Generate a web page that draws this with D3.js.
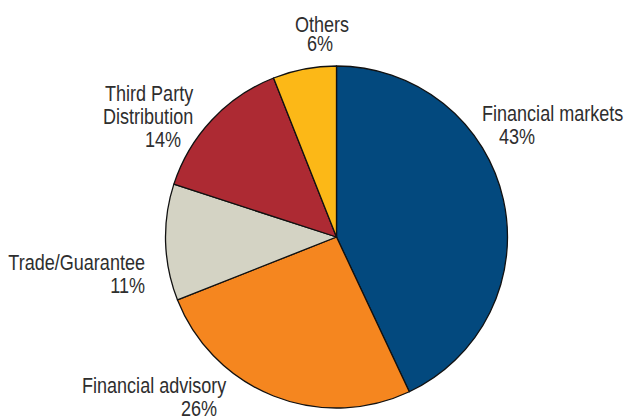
<!DOCTYPE html>
<html>
<head>
<meta charset="utf-8">
<script src="https://cdn.jsdelivr.net/npm/d3@7"></script>
<style>
  html, body { margin: 0; padding: 0; background: #fff; }
  svg { display: block; }
  .lbl { font-family: "Liberation Sans", Arial, sans-serif; font-size: 22px; fill: #2e2e2e; }
</style>
</head>
<body>
<svg id="chart" width="624" height="416"></svg>
<script>
// Revenue split by business line (percent)
const categories = ["Financial markets", "Financial advisory", "Trade/Guarantee", "Third Party Distribution", "Others"];
const values = [43, 26, 11, 14, 6];
const colors = ["#03497e", "#f5861f", "#d4d3c4", "#ad2a33", "#fcb817"];

// Label text lines (name split for wrapping) and their placement
const labelLines = [
  ["Financial markets"],
  ["Financial advisory"],
  ["Trade/Guarantee"],
  ["Third Party", "Distribution"],
  ["Others"]
];
const labelLayout = [
  { lines: [{x: 482, y: 121, a: "start"}], pct: {x: 499, y: 144, a: "start"} },
  { lines: [{x: 82,  y: 393, a: "start"}], pct: {x: 217, y: 416, a: "end"} },
  { lines: [{x: 145, y: 270, a: "end"}],   pct: {x: 145, y: 293, a: "end"} },
  { lines: [{x: 105, y: 101, a: "start"}, {x: 103, y: 124, a: "start"}], pct: {x: 145, y: 147, a: "start"} },
  { lines: [{x: 295, y: 32, a: "start"}],  pct: {x: 307, y: 51, a: "start"} }
];
// Horizontal squeeze giving a condensed face
const condense = 0.82;

const svg = d3.select("#chart");
const cx = 336.5, cy = 237, radius = 171;

const data = categories.map((c, i) => ({ name: c, value: values[i], color: colors[i], idx: i }));

const pie = d3.pie().sort(null).value(d => d.value).startAngle(0).endAngle(2 * Math.PI);
const arc = d3.arc().innerRadius(0).outerRadius(radius);

const g = svg.append("g").attr("transform", `translate(${cx},${cy})`);
g.selectAll("path.slice")
  .data(pie(data))
  .join("path")
  .attr("class", "slice")
  .attr("d", arc)
  .attr("fill", d => d.data.color)
  .attr("stroke", "#111")
  .attr("stroke-width", 1.3)
  .attr("stroke-linejoin", "round");

function addText(p, t) {
  svg.append("text").attr("class", "lbl")
    .attr("transform", `translate(${p.x},${p.y}) scale(${condense},1)`)
    .attr("text-anchor", p.a)
    .text(t);
}

// Category labels with percentage beneath
data.forEach((d, i) => {
  const lay = labelLayout[i];
  labelLines[i].forEach((t, j) => addText(lay.lines[j], t));
  addText(lay.pct, d.value + "%");
});
</script>
</body>
</html>
